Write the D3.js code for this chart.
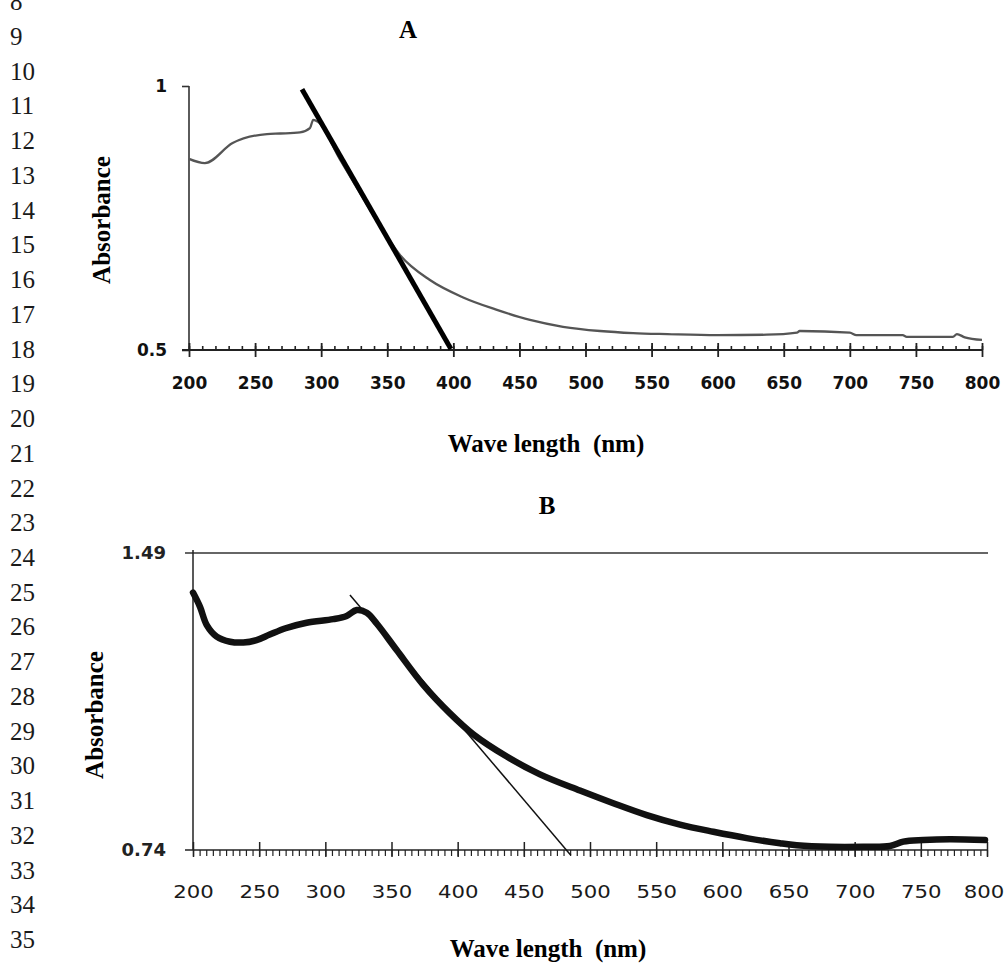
<!DOCTYPE html>
<html>
<head>
<meta charset="utf-8">
<script src="https://cdn.jsdelivr.net/npm/d3@7"></script>
<style>
  html, body { margin: 0; padding: 0; background: #fff; }
  svg { display: block; }
</style>
</head>
<body>
<div id="viz"></div>
<script>
// page line numbers in the left margin
const lineNumbers = [8, 9, 10, 11, 12, 13, 14, 15, 16, 17, 18, 19, 20, 21, 22, 23, 24, 25, 26, 27, 28, 29, 30, 31, 32, 33, 34, 35];

// panel A: absorbance spectrum (grey curve) + tangent (thick black)
const waveA = [200, 212, 233, 259, 269, 284, 291.5, 294, 297.6, 314, 329, 344.5, 359.6, 382, 407, 433, 458, 483, 511, 536, 562, 599.5, 637, 660, 662, 700, 705, 740, 743, 778, 781, 787, 800];
const absA = [0.862, 0.854, 0.892, 0.909, 0.910, 0.912, 0.920, 0.936, 0.932, 0.862, 0.799, 0.735, 0.680, 0.633, 0.600, 0.576, 0.557, 0.544, 0.536, 0.532, 0.530, 0.528, 0.529, 0.533, 0.536, 0.533, 0.528, 0.528, 0.525, 0.525, 0.530, 0.524, 0.519];
const tangentWaveA = [285.5, 398.2];
const tangentAbsA = [0.994, 0.502];
const xTicksA = [200, 250, 300, 350, 400, 450, 500, 550, 600, 650, 700, 750, 800];
const yTicksA = [0.5, 1];
const yTickLabelsA = ['0.5', '1'];

// panel B
const waveB = [200, 205.3, 210.4, 217.9, 228, 238, 248, 258, 270, 285.9, 306, 316.1, 323.7, 331.3, 338.8, 353.9, 374, 394.2, 411.8, 437.1, 462.2, 492.4, 517.6, 542.9, 568, 593.2, 618.4, 643.6, 656.2, 681.4, 706.5, 726.7, 736.8, 751.9, 772, 798.5];
const absB = [1.39, 1.354, 1.308, 1.279, 1.266, 1.264, 1.270, 1.284, 1.300, 1.314, 1.323, 1.331, 1.346, 1.339, 1.312, 1.245, 1.157, 1.085, 1.032, 0.976, 0.931, 0.890, 0.858, 0.828, 0.804, 0.786, 0.770, 0.757, 0.752, 0.748, 0.748, 0.750, 0.761, 0.765, 0.767, 0.765];
const tangentWaveB = [318.6, 485.5];
const tangentAbsB = [1.384, 0.727];
const xTicksB = [200, 250, 300, 350, 400, 450, 500, 550, 600, 650, 700, 750, 800];
const yTicksB = [0.74, 1.49];
const yTickLabelsB = ['0.74', '1.49'];

const xLabel = 'Wave length  (nm)';
const yLabel = 'Absorbance';

const width = 1005;
const height = 963;

const svg = d3.select('#viz').append('svg')
  .attr('width', width)
  .attr('height', height);

svg.append('rect').attr('width', width).attr('height', height).attr('fill', '#fff');

// line numbers
const lineY = d3.scaleLinear().domain([9, 35]).range([45, 948]);
svg.append('g')
  .selectAll('text')
  .data(lineNumbers)
  .enter()
  .append('text')
  .attr('x', 10)
  .attr('y', d => lineY(d))
  .attr('font-family', 'Liberation Serif, serif')
  .attr('font-size', 25)
  .attr('fill', '#1a1a1a')
  .text(d => d);

const zip = (xs, ys) => xs.map((x, i) => ({ x: x, y: ys[i] }));

/* ---------------- Panel A ---------------- */
const xA = d3.scaleLinear().domain([200, 800]).range([189, 982]);
const yA = d3.scaleLinear().domain([0.5, 1]).range([350, 86]);
const gA = svg.append('g');

// y axis
gA.append('line')
  .attr('x1', xA(200)).attr('x2', xA(200))
  .attr('y1', yA(1)).attr('y2', yA(0.5))
  .attr('stroke', '#333').attr('stroke-width', 1.6);

const yAxisA = d3.axisLeft(yA)
  .tickValues(yTicksA)
  .tickSize(7)
  .tickSizeOuter(0)
  .tickFormat((d, i) => yTickLabelsA[i]);
const yAxA = gA.append('g').attr('transform', `translate(${xA(200)},0)`).call(yAxisA);
yAxA.select('.domain').remove();
yAxA.selectAll('line').attr('stroke', '#333').attr('stroke-width', 1.6);
yAxA.selectAll('text')
  .attr('x', -22)
  .attr('font-family', 'DejaVu Sans, sans-serif')
  .attr('font-weight', 'bold')
  .attr('font-size', 17)
  .attr('fill', '#111');

// x axis line
gA.append('line')
  .attr('x1', xA(200) - 7).attr('x2', xA(800))
  .attr('y1', yA(0.5)).attr('y2', yA(0.5))
  .attr('stroke', '#222').attr('stroke-width', 1.8);

// minor ticks every 10 nm (upward)
const minorA = gA.append('g').attr('transform', `translate(0,${yA(0.5)})`)
  .call(d3.axisTop(xA).tickValues(d3.range(200, 801, 10)).tickSize(4).tickFormat(''));
minorA.select('.domain').remove();
minorA.selectAll('line').attr('stroke', '#222').attr('stroke-width', 1.6);

// major ticks + labels
const xAxA = gA.append('g').attr('transform', `translate(0,${yA(0.5)})`)
  .call(d3.axisBottom(xA).tickValues(xTicksA).tickSize(7).tickSizeOuter(0));
xAxA.select('.domain').remove();
xAxA.selectAll('line').attr('y1', -7).attr('y2', 7).attr('stroke', '#222').attr('stroke-width', 1.8);
xAxA.selectAll('text')
  .attr('y', 27)
  .attr('dy', '0.71em')
  .attr('font-family', 'DejaVu Sans, sans-serif')
  .attr('font-weight', 'bold')
  .attr('font-size', 17)
  .attr('fill', '#111');

// spectrum
gA.append('path')
  .datum(zip(waveA, absA))
  .attr('fill', 'none')
  .attr('stroke', '#555')
  .attr('stroke-width', 2.3)
  .attr('d', d3.line().x(d => xA(d.x)).y(d => yA(d.y)).curve(d3.curveMonotoneX));

// tangent
gA.append('path')
  .datum(zip(tangentWaveA, tangentAbsA))
  .attr('fill', 'none')
  .attr('stroke', '#000')
  .attr('stroke-width', 5)
  .attr('d', d3.line().x(d => xA(d.x)).y(d => yA(d.y)));

// titles
gA.append('text')
  .attr('x', 408).attr('y', 38)
  .attr('text-anchor', 'middle')
  .attr('font-family', 'Liberation Serif, serif')
  .attr('font-weight', 'bold')
  .attr('font-size', 25)
  .text('A');
gA.append('text')
  .attr('x', 546).attr('y', 452)
  .attr('text-anchor', 'middle')
  .attr('font-family', 'Liberation Serif, serif')
  .attr('font-weight', 'bold')
  .attr('font-size', 25)
  .style('white-space', 'pre')
  .text(xLabel);
gA.append('text')
  .attr('transform', 'translate(110,220) rotate(-90)')
  .attr('text-anchor', 'middle')
  .attr('font-family', 'Liberation Serif, serif')
  .attr('font-weight', 'bold')
  .attr('font-size', 25)
  .text(yLabel);

/* ---------------- Panel B ---------------- */
const xB = d3.scaleLinear().domain([200, 800]).range([193, 987]);
const yB = d3.scaleLinear().domain([0.74, 1.49]).range([850, 553]);
const gB = svg.append('g');

// top gridline at max
gB.append('line')
  .attr('x1', xB(200) - 8).attr('x2', xB(800) + 1)
  .attr('y1', yB(1.49)).attr('y2', yB(1.49))
  .attr('stroke', '#333').attr('stroke-width', 1.4);

// y axis
gB.append('line')
  .attr('x1', xB(200)).attr('x2', xB(200))
  .attr('y1', yB(1.49) - 3).attr('y2', yB(0.74))
  .attr('stroke', '#222').attr('stroke-width', 1.5);

const yAxB = gB.append('g').attr('transform', `translate(${xB(200)},0)`)
  .call(d3.axisLeft(yB).tickValues(yTicksB).tickSize(0).tickFormat((d, i) => yTickLabelsB[i]));
yAxB.select('.domain').remove();
yAxB.selectAll('text')
  .attr('x', -27)
  .attr('font-family', 'DejaVu Sans, sans-serif')
  .attr('font-size', 18)
  .attr('font-weight', 'bold')
  .attr('fill', '#222');

// x axis line
gB.append('line')
  .attr('x1', xB(200) - 8).attr('x2', xB(800))
  .attr('y1', yB(0.74)).attr('y2', yB(0.74))
  .attr('stroke', '#222').attr('stroke-width', 1.5);

// minor ticks every 5 nm (downward)
const minorB = gB.append('g').attr('transform', `translate(0,${yB(0.74)})`)
  .call(d3.axisBottom(xB).tickValues(d3.range(200, 801, 5)).tickSize(6).tickFormat(''));
minorB.select('.domain').remove();
minorB.selectAll('line').attr('stroke', '#222').attr('stroke-width', 1.2);

const xAxB = gB.append('g').attr('transform', `translate(0,${yB(0.74)})`)
  .call(d3.axisBottom(xB).tickValues(xTicksB).tickSize(7).tickSizeOuter(0));
xAxB.select('.domain').remove();
xAxB.selectAll('line').attr('y1', -8).attr('y2', 7).attr('stroke', '#222').attr('stroke-width', 1.5);
xAxB.selectAll('text')
  .attr('y', 35)
  .attr('dy', '0.71em')
  .attr('font-family', 'DejaVu Sans, sans-serif')
  .attr('font-size', 18)
  .attr('fill', '#1a1a1a')
  .attr('transform', 'scale(1.18,1)');
// last label sits at the page edge: pull it in a little
xAxB.selectAll('.tick').filter(d => d === 800).select('text').attr('x', -3);

// spectrum (thick)
gB.append('path')
  .datum(zip(waveB, absB))
  .attr('fill', 'none')
  .attr('stroke', '#111')
  .attr('stroke-width', 6.5)
  .attr('stroke-linejoin', 'round')
  .attr('stroke-linecap', 'round')
  .attr('d', d3.line().x(d => xB(d.x)).y(d => yB(d.y)).curve(d3.curveCatmullRom.alpha(0.5)));

// tangent (thin)
gB.append('path')
  .datum(zip(tangentWaveB, tangentAbsB))
  .attr('fill', 'none')
  .attr('stroke', '#111')
  .attr('stroke-width', 1.5)
  .attr('d', d3.line().x(d => xB(d.x)).y(d => yB(d.y)));

gB.append('text')
  .attr('x', 547).attr('y', 514)
  .attr('text-anchor', 'middle')
  .attr('font-family', 'Liberation Serif, serif')
  .attr('font-weight', 'bold')
  .attr('font-size', 25)
  .text('B');
gB.append('text')
  .attr('x', 548).attr('y', 957)
  .attr('text-anchor', 'middle')
  .attr('font-family', 'Liberation Serif, serif')
  .attr('font-weight', 'bold')
  .attr('font-size', 25)
  .style('white-space', 'pre')
  .text(xLabel);
gB.append('text')
  .attr('transform', 'translate(103,715) rotate(-90)')
  .attr('text-anchor', 'middle')
  .attr('font-family', 'Liberation Serif, serif')
  .attr('font-weight', 'bold')
  .attr('font-size', 25)
  .text(yLabel);
</script>
</body>
</html>
